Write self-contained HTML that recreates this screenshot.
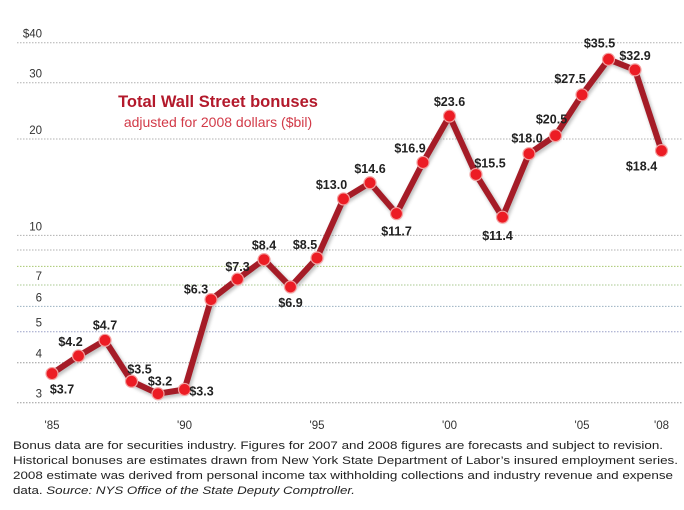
<!DOCTYPE html>
<html><head><meta charset="utf-8"><style>
html,body{margin:0;padding:0;background:#fff;}
svg{display:block;font-family:"Liberation Sans",sans-serif;}
</style></head><body>
<svg id="chart" width="684" height="510" viewBox="0 0 684 510" xmlns="http://www.w3.org/2000/svg">
<defs><filter id="sh" x="-10%" y="-10%" width="120%" height="120%"><feGaussianBlur stdDeviation="1.5"/></filter></defs>
<g id="grid"></g>
<g id="ylab"></g>
<g id="xlab"></g>
<text x="218" y="107" text-anchor="middle" font-size="16.5" font-weight="bold" fill="#b3192b">Total Wall Street bonuses</text>
<text x="218" y="127" text-anchor="middle" font-size="14" fill="#d23a48">adjusted for 2008 dollars ($bil)</text>
<g id="series"></g>
<g font-size="11" fill="#222">
<text x="13" y="449" textLength="650" lengthAdjust="spacingAndGlyphs">Bonus data are for securities industry. Figures for 2007 and 2008 figures are forecasts and subject to revision.</text>
<text x="13" y="464" textLength="665" lengthAdjust="spacingAndGlyphs">Historical bonuses are estimates drawn from New York State Department of Labor’s insured employment series.</text>
<text x="13" y="479" textLength="660" lengthAdjust="spacingAndGlyphs">2008 estimate was derived from personal income tax withholding collections and industry revenue and expense</text>
<text x="13" y="494" textLength="342" lengthAdjust="spacingAndGlyphs">data. <tspan font-style="italic">Source: NYS Office of the State Deputy Comptroller.</tspan></text>
</g>
</svg>
<script>
const years = [1985,1986,1987,1988,1989,1990,1991,1992,1993,1994,1995,1996,1997,1998,1999,2000,2001,2002,2003,2004,2005,2006,2007,2008];
const bonuses = [3.7,4.2,4.7,3.5,3.2,3.3,6.3,7.3,8.4,6.9,8.5,13.0,14.6,11.7,16.9,23.6,15.5,11.4,18.0,20.5,27.5,35.5,32.9,18.4];
const valueLabels = ["$3.7","$4.2","$4.7","$3.5","$3.2","$3.3","$6.3","$7.3","$8.4","$6.9","$8.5","$13.0","$14.6","$11.7","$16.9","$23.6","$15.5","$11.4","$18.0","$20.5","$27.5","$35.5","$32.9","$18.4"];
const gridValues = [3,4,5,6,7,8,9,10,20,30,40];
const yTickValues = [3,4,5,6,7,10,20,30,40];
const yTickLabels = ["3","4","5","6","7","10","20","30","$40"];
const xTickYears = [1985,1990,1995,2000,2005,2008];
const xTickLabels = ["'85","'90","'95","'00","'05","'08"];
const labelOffsets = [[10,20],[-8,-10],[0,-11],[8,-8],[2,-8],[17,6],[-15,-6],[0,-8],[0,-10],[0,20],[-12,-9],[-12,-10],[0,-10],[0,22],[-13,-10],[0,-10],[14,-7],[-5,23],[-2,-11],[-4,-12],[-12,-12],[-9,-12],[0,-10],[-20,20]];
const NS="http://www.w3.org/2000/svg";
function x(yr){return 52+(yr-1985)*26.5;}
function y(v){return 402.7-(Math.log10(v)-Math.log10(3))*320;}
function mk(tag,attrs,parent){const e=document.createElementNS(NS,tag);for(const k in attrs)e.setAttribute(k,attrs[k]);parent.appendChild(e);return e;}
const grid=document.getElementById('grid'),ylab=document.getElementById('ylab'),xlab=document.getElementById('xlab'),ser=document.getElementById('series');
const gcol={3:"#9a9a9a",4:"#9a9a9a",5:"#9aa0c8",6:"#9ab0c0",7:"#a8c890",8:"#a8c870",9:"#b0b0b0",10:"#b0b0b0",20:"#b0b0b0",30:"#b0b0b0",40:"#b0b0b0"};
gridValues.forEach(v=>{
 const l=mk('line',{x1:17,x2:682,y1:y(v),y2:y(v),stroke:gcol[v]||"#aaa","stroke-width":1,"stroke-dasharray":"1.5 1.5"},grid);
 
 
});
yTickValues.forEach((v,i)=>{
 const t=mk('text',{x:42,y:y(v)-5,"text-anchor":"end","font-size":11.5,fill:"#333"},ylab);
 t.textContent=yTickLabels[i];
 
 
});
xTickYears.forEach((yr,i)=>{
 const t=mk('text',{x:x(yr),y:429,"text-anchor":"middle","font-size":11.5,fill:"#333"},xlab);
 t.textContent=xTickLabels[i];
 
 
});
const pts=years.map((yr,i)=>x(yr).toFixed(1)+","+y(bonuses[i]).toFixed(1)).join(" ");
mk('polyline',{points:pts,fill:"none",stroke:"#999","stroke-width":7,"stroke-linejoin":"round",filter:"url(#sh)",transform:"translate(1.5,2)",opacity:0.6},ser);
const line=mk('polyline',{points:pts,fill:"none",stroke:"#a51c27","stroke-width":6,"stroke-linejoin":"round"},ser);


years.forEach((yr,i)=>{
 const c=mk('circle',{cx:x(yr),cy:y(bonuses[i]),r:6,fill:"#ec1c24",stroke:"#f3a0a0","stroke-width":1.2},ser);
 
 
 const o=labelOffsets[i];
 const t=mk('text',{x:x(yr)+o[0],y:y(bonuses[i])+o[1],"text-anchor":"middle","font-size":12.5,"font-weight":"bold",fill:"#222"},ser);
 t.textContent=valueLabels[i];
 
 
});
</script>
</body></html>
